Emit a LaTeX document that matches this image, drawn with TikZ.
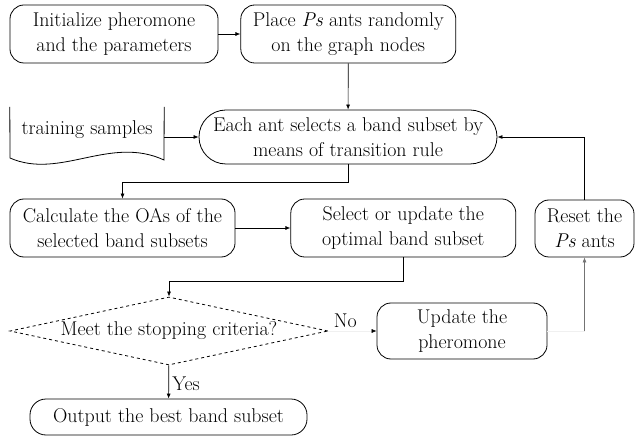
\documentclass[tikz,border=0pt]{standalone}
\usetikzlibrary{arrows.meta, positioning, shapes.geometric}

\begin{document}
\begin{tikzpicture}[
        x=1bp, y=-1bp,
        every node/.style={font=\fontsize{20}{25}\selectfont},
        step_box/.style={rectangle, draw, rounded corners=14bp, align=center, inner sep=0pt, line width=0.8bp},
        term_box/.style={step_box, rounded corners=27bp},
        check/.style={diamond, draw, dashed, aspect=4.68, inner sep=0pt, minimum width=318bp, minimum height=68bp, line width=0.8bp},
        line/.style={draw, line width=0.7bp, -{Latex[length=5bp, width=4bp]}},
        faint/.style={draw=black!6, line width=0.5bp, -{Latex[length=5bp, width=4bp, color=black]}}
    ]
    \useasboundingbox (0,0) rectangle (636,437);

    % initialisation
    \node[step_box, minimum width=208bp, minimum height=58bp] (init) at (114,34) {Initialize pheromone\\and the parameters};
    \node[step_box, minimum width=215bp, minimum height=58bp, right=22bp of init] (place) {Place \textit{Ps} ants randomly\\on the graph nodes};

    % tour construction
    \node[inner sep=0pt, minimum width=154bp, minimum height=46bp] (train) at (87,130) {training samples};
    \draw[line width=0.8bp] (train.north west) -- (10,158) .. controls (60,180) and (110,135) .. (164,160) -- (train.north east);
    \node[term_box, minimum width=298bp, minimum height=54bp] (choose) at (348,137) {Each ant selects a band subset by\\means of transition rule};

    % evaluation
    \node[step_box, minimum width=225bp, minimum height=58bp] (calc) at (122.5,228) {Calculate the OAs of the\\selected band subsets};
    \node[step_box, minimum width=225bp, minimum height=58bp, right=55bp of calc] (best) {Select or update the\\optimal band subset};
    \node[step_box, minimum width=99bp, minimum height=57bp] (reset) at (584.5,228.5) {Reset the\\\textit{Ps} ants};

    % decision
    \node[check] (stop) at (169,331) {Meet the stopping criteria?};
    \node[step_box, minimum width=170bp, minimum height=56bp] (update) at (462,331) {Update the\\pheromone};
    \node[step_box, rounded corners=16bp, minimum width=277bp, minimum height=36bp] (output) at (168.5,417) {Output the best band subset};

    % connections
    \path [line] (init) -- (place);
    \path [line] (place) -- (choose);
    \path [line] (train.east |- choose.west) -- (choose.west);
    \path [line] (choose.south) -- ++(0,18) -| (calc.north);
    \path [line] (calc) -- (best);
    \path [line] (best.south) -- ++(0,24) -| (stop.north);
    \path [line] (stop) -- node[right, yshift=-2bp] {Yes} (output);
    \path [faint] (stop) -- node[pos=0.35, above, text=black] {No} (update);
    \coordinate (bend) at (reset.south |- update.east);
    \draw[black!6, line width=0.5bp] (update.east) -- (bend);
    \path [line, draw=black!55] (bend) -- (reset.south);
    \path [line] (reset.north) |- (choose.east);

\end{tikzpicture}
\end{document}
